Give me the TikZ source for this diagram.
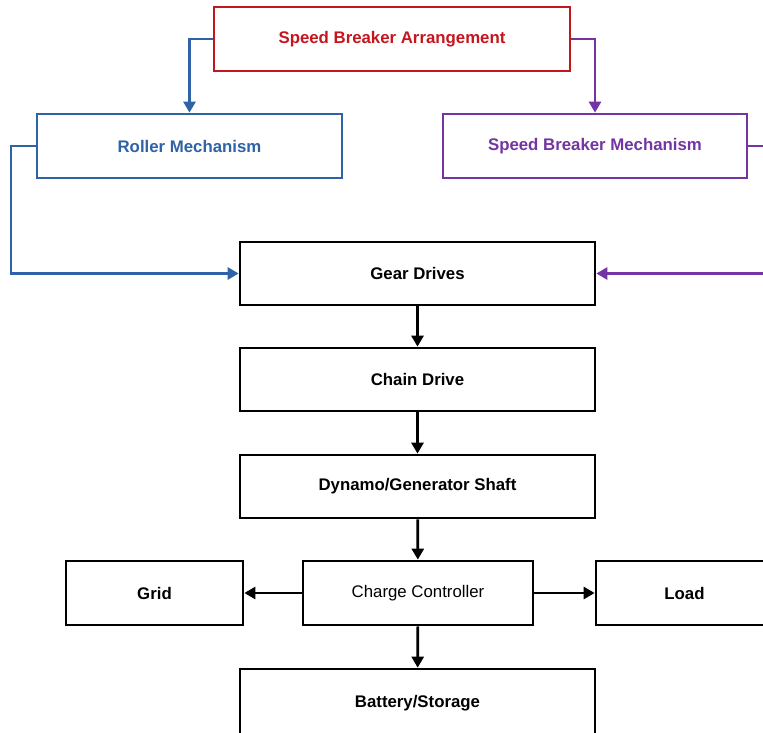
\documentclass[tikz,border=0pt]{standalone}
\usepackage{fontspec}
\setmainfont{Liberation Sans}
\usetikzlibrary{arrows.meta}
\definecolor{cred}{HTML}{C4161F}
\definecolor{cblue}{HTML}{2F62A6}
\definecolor{cpurp}{HTML}{7434A4}
\begin{document}
\begin{tikzpicture}[x=1pt,y=-1pt,
  box/.style={draw=black,line width=2.7pt,rectangle,inner sep=0pt,align=center,
     font=\fontsize{16.8}{19}\selectfont\bfseries},
  arr/.style={line width=2.7pt,-{Triangle[length=11pt,width=12pt]}}]
\useasboundingbox (0,0) rectangle (763,732);
\clip (0,0) rectangle (763,732);
\fill[white] (0,0) rectangle (763,732);
\node[box,draw=cred,text=cred,minimum width=356pt,minimum height=64pt] (sba) at (392,39) {Speed Breaker Arrangement};
\node[box,draw=cblue,text=cblue,minimum width=305pt,minimum height=64pt] (roll) at (189.5,146) {Roller Mechanism};
\node[box,draw=cpurp,text=cpurp,minimum width=304pt,minimum height=64pt] (sbm) at (595,146) {Speed Breaker Mechanism};
\node[box,minimum width=355pt,minimum height=63pt] (gear) at (417.5,273.5) {Gear Drives};
\node[box,minimum width=355pt,minimum height=63pt] (chain) at (417.5,379.5) {Chain Drive};
\node[box,minimum width=355pt,minimum height=63pt] (dyn) at (417.5,486.5) {Dynamo/Generator Shaft};
\node[box,minimum width=177pt,minimum height=64pt] (grid) at (154.5,593) {Grid};
\node[box,font=\fontsize{16.8}{19}\selectfont,minimum width=230pt,minimum height=64pt] (cc) at (418,593) {Charge Controller};
\node[box,minimum width=177pt,minimum height=64pt] (load) at (684.5,593) {Load};
\node[box,minimum width=355pt,minimum height=68pt] (bat) at (417.5,703) {Battery/Storage};
\coordinate (rl) at (11,146);
\coordinate (rr) at (767,146);
\draw[arr,cblue] (sba.west) -| (roll.north);
\draw[arr,cpurp] (sba.east) -| (sbm.north);
\draw[arr,cblue] (roll.west) -- (rl) |- (gear.west);
\draw[arr,cpurp] (sbm.east) -- (rr) |- (gear.east);
\draw[arr] (gear) -- (chain);
\draw[arr] (chain) -- (dyn);
\draw[arr] (dyn) -- (cc);
\draw[arr] (cc) -- (grid);
\draw[arr] (cc) -- (load);
\draw[arr] (cc) -- (bat);
\end{tikzpicture}
\end{document}
